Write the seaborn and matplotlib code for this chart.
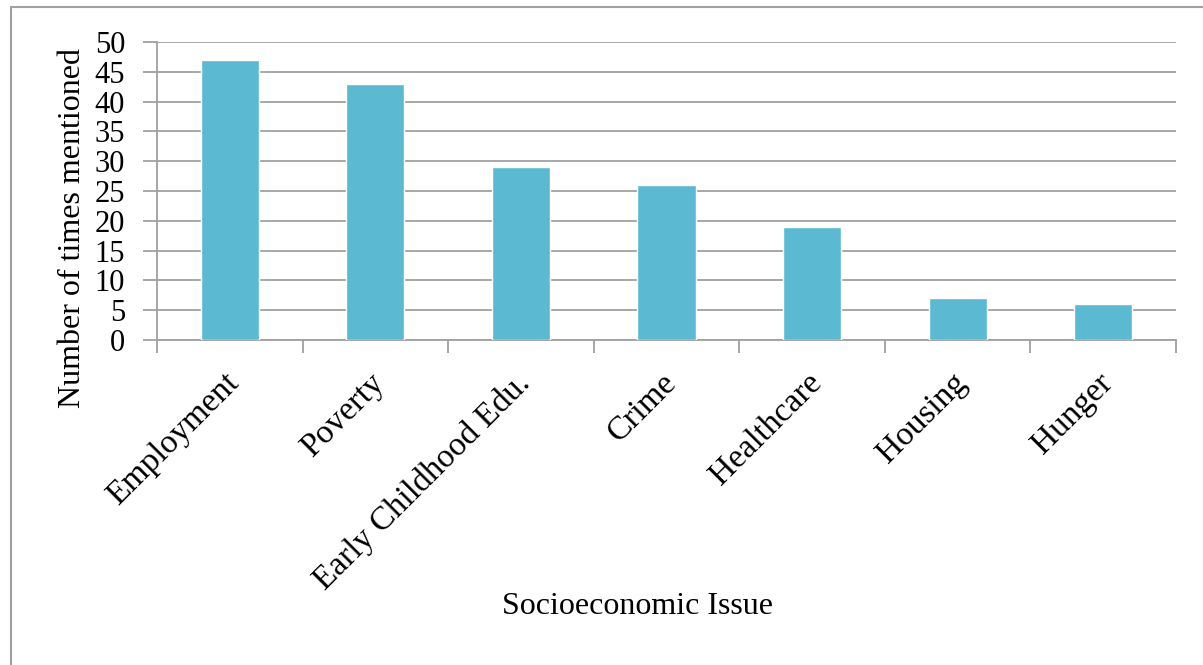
import seaborn as sns
import matplotlib.pyplot as plt
import matplotlib.transforms as mtrans
import pandas as pd
from matplotlib.patches import Rectangle

issues = ['Employment', 'Poverty', 'Early Childhood Edu.', 'Crime',
          'Healthcare', 'Housing', 'Hunger']
mentions = [47, 43, 29, 26, 19, 7, 6]
y_ticks = [0, 5, 10, 15, 20, 25, 30, 35, 40, 45, 50]

df = pd.DataFrame({'issue': issues, 'mentions': mentions})

sns.set_style('white')
plt.rcParams['font.family'] = ['Liberation Serif', 'DejaVu Serif']
plt.rcParams['text.color'] = 'black'
plt.rcParams['axes.labelcolor'] = 'black'
plt.rcParams['xtick.labelcolor'] = 'black'
plt.rcParams['ytick.labelcolor'] = 'black'

grid_col = '#a0a0a0'

fig = plt.figure(figsize=(12.03, 6.65), dpi=100)
ax = fig.add_axes([0.1305, 0.4887, 0.8471, 0.4481])

sns.barplot(data=df, x='issue', y='mentions', color='#5bb9d2', width=0.4,
            saturation=1, ax=ax, zorder=3)

ax.set_ylim(0, 50)
ax.set_xlim(-0.5, len(issues) - 0.5)
ax.set_yticks(y_ticks)
ax.grid(axis='y', color=grid_col, linewidth=1.3, zorder=0)

# outer frame of the chart area
fig.patches.append(Rectangle((11 / 1203, -0.1), 1.2, 1.1 - 7 / 665,
                             transform=fig.transFigure, fill=False,
                             edgecolor='#a0a0a0', linewidth=1.5))

for s in ['top', 'right']:
    ax.spines[s].set_visible(False)
for s in ['left', 'bottom']:
    ax.spines[s].set_color(grid_col)
    ax.spines[s].set_linewidth(1.3)

# x ticks sit on category boundaries, labels at centres
ax.set_xticks([i - 0.5 for i in range(len(issues) + 1)], minor=False)
ax.set_xticklabels([''] * (len(issues) + 1))
ax.set_xticks(range(len(issues)), minor=True)
ax.set_xticklabels(issues, minor=True, rotation=45, ha='right', va='top',
                   rotation_mode='anchor', fontsize=24)
ax.tick_params(axis='x', which='major', direction='out', length=9, width=1.3,
               color=grid_col, bottom=True)
ax.tick_params(axis='x', which='minor', length=0, pad=20)
ax.tick_params(axis='y', direction='out', length=10, width=1.3,
               color=grid_col, left=True, labelsize=22, pad=13)

shift = mtrans.ScaledTranslation(-0.06, 0, fig.dpi_scale_trans)
for lab in ax.get_xticklabels(minor=True):
    lab.set_transform(lab.get_transform() + shift)

ax.set_ylabel('Number of times mentioned', fontsize=23, va='center')
ax.yaxis.set_label_coords(-0.0834, 0.375)
ax.set_xlabel('Socioeconomic Issue', fontsize=23, va='center')
ax.xaxis.set_label_coords(0.472, -0.895)

plt.savefig('out.png', dpi=100)
plt.close()
